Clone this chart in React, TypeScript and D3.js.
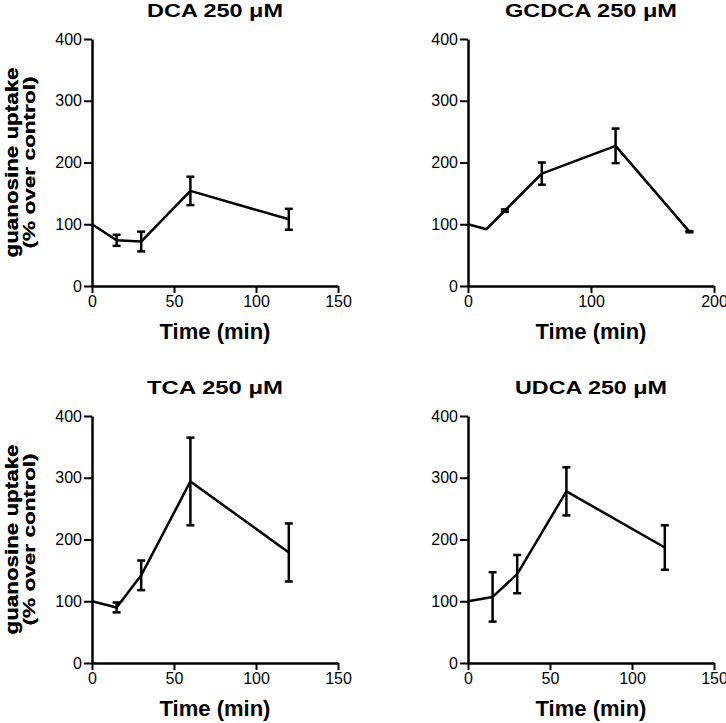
import React, { useRef, useEffect } from "react";
import * as d3 from "d3";

// ----- data -----
const panelTitles = ["DCA 250 \u03BCM", "GCDCA 250 \u03BCM", "TCA 250 \u03BCM", "UDCA 250 \u03BCM"];

const dcaTime = [0, 15, 30, 60, 120];
const dcaMean = [100, 74, 72, 154, 108];
const dcaErr = [0, 9, 16, 23, 17];

const gcdcaTime = [0, 15, 30, 60, 120, 180];
const gcdcaMean = [100, 92, 122, 182, 227, 88];
const gcdcaErr = [0, 0, 2, 18, 28, 1];

const tcaTime = [0, 15, 30, 60, 120];
const tcaMean = [100, 90, 142, 294, 179];
const tcaErr = [0, 8, 24, 71, 47];

const udcaTime = [0, 15, 30, 60, 120];
const udcaMean = [100, 107, 144, 278, 187];
const udcaErr = [0, 40, 31, 39, 36];

const xMaxes = [150, 200, 150, 150];
const xTicksSmall = [0, 50, 100, 150];
const xTicksLarge = [0, 100, 200];
const yTicks = [0, 100, 200, 300, 400];

export default function App() {
  const ref = useRef<SVGSVGElement | null>(null);

  useEffect(() => {
    const svg = d3.select(ref.current);
    svg.selectAll("*").remove();

    const series = [
      { t: dcaTime, m: dcaMean, e: dcaErr },
      { t: gcdcaTime, m: gcdcaMean, e: gcdcaErr },
      { t: tcaTime, m: tcaMean, e: tcaErr },
      { t: udcaTime, m: udcaMean, e: udcaErr },
    ];

    // plot boxes (left, top) for each panel
    const origins = [
      [92, 39],
      [468, 39],
      [92, 416],
      [468, 416],
    ];
    const w = 246;
    const h = 247;
    const font = "'Liberation Sans', Arial, Helvetica, sans-serif";

    series.forEach((s, i) => {
      const [ox, oy] = origins[i];
      const g = svg.append("g").attr("transform", `translate(${ox},${oy})`);

      const x = d3.scaleLinear().domain([0, xMaxes[i]]).range([0, w]);
      const y = d3.scaleLinear().domain([0, 400]).range([h, 0]);

      // axes
      const xAxis = g.append("g")
        .attr("transform", `translate(0,${h})`)
        .call(d3.axisBottom(x).tickValues(xMaxes[i] === 200 ? xTicksLarge : xTicksSmall).tickSize(7).tickSizeOuter(0).tickPadding(3));
      const yAxis = g.append("g")
        .call(d3.axisLeft(y).tickValues(yTicks).tickSize(8).tickSizeOuter(0).tickPadding(2));

      [xAxis, yAxis].forEach(a => {
        a.select(".domain").attr("stroke", "#000").attr("stroke-width", 2.5);
        a.selectAll(".tick line").attr("stroke", "#000").attr("stroke-width", 2);
        a.selectAll(".tick text")
          .attr("fill", "#000")
          .style("font-family", font)
          .style("font-size", "16px");
      });

      // line
      const pts = s.t.map((t, k) => [t, s.m[k]] as [number, number]);
      g.append("path")
        .datum(pts)
        .attr("fill", "none")
        .attr("stroke", "#000")
        .attr("stroke-width", 2.5)
        .attr("stroke-linejoin", "round")
        .attr("d", d3.line<[number, number]>().x(d => x(d[0])).y(d => y(d[1])));

      // error bars
      const eb = g.append("g").attr("stroke", "#000").attr("stroke-width", 2.5);
      s.t.forEach((t, k) => {
        if (!s.e[k]) return;
        const cx = x(t);
        const top = y(s.m[k] + s.e[k]);
        const bot = y(s.m[k] - s.e[k]);
        eb.append("line").attr("x1", cx).attr("x2", cx).attr("y1", top).attr("y2", bot);
        eb.append("line").attr("x1", cx - 4).attr("x2", cx + 4).attr("y1", top).attr("y2", top);
        eb.append("line").attr("x1", cx - 4).attr("x2", cx + 4).attr("y1", bot).attr("y2", bot);
      });

      // title (reference type is stretched wide)
      g.append("text")
        .attr("x", w / 2)
        .attr("y", -22)
        .attr("text-anchor", "middle")
        .attr("textLength", i === 1 ? 172 : i === 3 ? 152 : 136)
        .attr("lengthAdjust", "spacingAndGlyphs")
        .style("font-family", font)
        .style("font-weight", "bold")
        .style("font-size", "18px")
        .text(panelTitles[i]);

      // x label
      g.append("text")
        .attr("x", w / 2)
        .attr("y", h + 53)
        .attr("text-anchor", "middle")
        .style("font-family", font)
        .style("font-weight", "bold")
        .style("font-size", "22px")
        .text("Time (min)");

      // y label, two lines
      const yl = g.append("g").attr("transform", `translate(${-ox + 18},${h / 2}) rotate(-90)`);
      yl.append("text")
        .attr("x", 0)
        .attr("y", 0)
        .attr("text-anchor", "middle")
        .attr("textLength", 190)
        .attr("lengthAdjust", "spacingAndGlyphs")
        .style("font-family", font)
        .style("font-weight", "bold")
        .style("font-size", "18px")
        .text("guanosine uptake");
      yl.append("text")
        .attr("x", 0)
        .attr("y", 17)
        .attr("text-anchor", "middle")
        .attr("textLength", 172)
        .attr("lengthAdjust", "spacingAndGlyphs")
        .style("font-family", font)
        .style("font-weight", "bold")
        .style("font-size", "17px")
        .text("(% over control)");
    });
  }, []);

  return (
    <svg
      ref={ref}
      width={726}
      height={723}
      style={{ position: "absolute", left: 0, top: 0, background: "#fff" }}
    />
  );
}
